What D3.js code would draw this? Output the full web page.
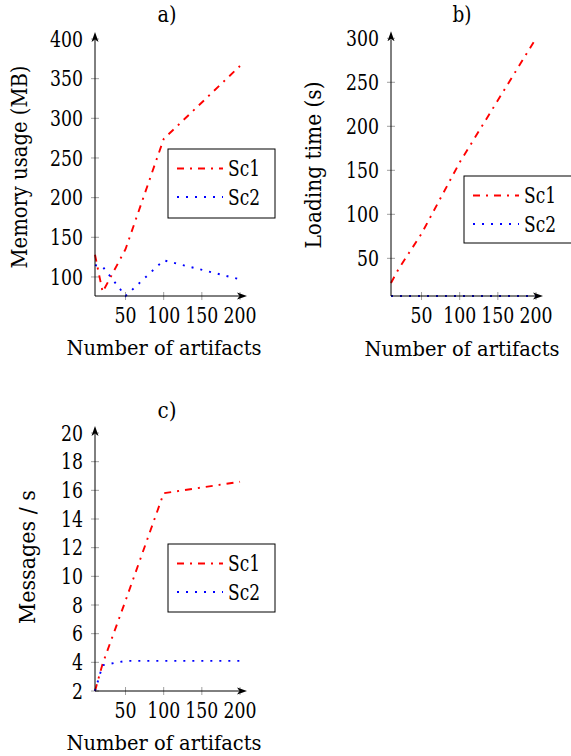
<html>
<head>
  <style>
  body {
    margin: 0;
    background: #fff;
  }
  </style>
</head>
<body>
  <div id="elm"></div>

  <script src="https://d3js.org/d3.v7.min.js"></script>
  <script>
  'use strict';

  // number of artifacts (x values shared by all three plots)
  var artifacts = [10, 20, 50, 100, 200];
  var xTicks = [50, 100, 150, 200];

  // a) memory usage (MB)
  var memSc1 = [128, 81, 135, 274, 366];
  var memSc2 = [115, 113, 76, 121, 97];
  var memTicks = [100, 150, 200, 250, 300, 350, 400];

  // b) loading time (s)
  var loadSc1 = [22, 38, 78, 159, 300];
  var loadSc2 = [7.2, 7.2, 7.2, 7.2, 7.2];
  var loadTicks = [50, 100, 150, 200, 250, 300];

  // c) messages / s
  var msgSc1 = [2, 3.9, 8.3, 15.8, 16.6];
  var msgSc2 = [2, 3.8, 4.1, 4.1, 4.1];
  var msgTicks = [2, 4, 6, 8, 10, 12, 14, 16, 18, 20];

  var seriesNames = ['Sc1', 'Sc2'];

  var W = 571, H = 756;
  var fontSize = 21.5;
  var serif = 'DejaVu Serif';
  var digitW = 11;    // width of one digit, computer-modern like

  var svg = d3.select('#elm').append('svg')
    .attr('width', W)
    .attr('height', H);

  var defs = svg.append('defs');
  defs.append('marker')
    .attr('id', 'arrow')
    .attr('viewBox', '0 0 10 10')
    .attr('refX', 2)
    .attr('refY', 5)
    .attr('markerWidth', 10)
    .attr('markerHeight', 10)
    .attr('markerUnits', 'userSpaceOnUse')
    .attr('orient', 'auto')
    .append('path')
      .attr('d', 'M0,1.5 L10,5 L0,8.5 L2.5,5 Z')
      .attr('fill', '#000');

  var styles = [
    { color: '#ff0000', dash: '7,6,2,6' },
    { color: '#0000ff', dash: '2,7' }
  ];

  var panels = [
    { title: 'a)', tx: 167, ty: 22,
      ylabel: 'Memory usage (MB)', ylen: 203, ylx: 27, yly: 167,
      xlx: 164, xly: 355, tly: 323,
      xr: [95, 240], yr: [296, 39], ydom: [76, 400],
      yticks: memTicks, data: [memSc1, memSc2],
      legend: { x: 168, y: 149, w: 107, h: 69 } },
    { title: 'b)', tx: 462, ty: 22,
      ylabel: 'Loading time (s)', ylen: 167, ylx: 321, yly: 165,
      xlx: 462, xly: 356, tly: 323,
      xr: [391, 536], yr: [296, 38.3], ydom: [7.2, 300],
      yticks: loadTicks, data: [loadSc1, loadSc2],
      legend: { x: 464, y: 176, w: 115, h: 67 } },
    { title: 'c)', tx: 167, ty: 418,
      ylabel: 'Messages / s', ylen: 134, ylx: 35, yly: 557,
      xlx: 164, xly: 750, tly: 718,
      xr: [95, 240], yr: [691, 433], ydom: [2, 20],
      yticks: msgTicks, data: [msgSc1, msgSc2],
      legend: { x: 168, y: 544, w: 107, h: 68 } }
  ];

  function label(sel, len, size) {
    sel.style('font-family', serif).style('font-size', (size || fontSize) + 'px');
    if (len) {
      sel.attr('textLength', len).attr('lengthAdjust', 'spacingAndGlyphs');
    }
    return sel;
  }

  function numLen(d) { return String(d).length * digitW; }

  panels.forEach(function(p) {
    var g = svg.append('g');
    var x = d3.scaleLinear().domain([10, 200]).range(p.xr);
    var y = d3.scaleLinear().domain(p.ydom).range(p.yr);

    // tick marks (gray, crossing the axis line)
    g.selectAll('.xt').data(xTicks).enter().append('line')
      .attr('x1', function(d) { return x(d); })
      .attr('x2', function(d) { return x(d); })
      .attr('y1', p.yr[0] - 4)
      .attr('y2', p.yr[0] + 4)
      .attr('stroke', '#888')
      .attr('stroke-width', 0.8);

    g.selectAll('.yt').data(p.yticks).enter().append('line')
      .attr('x1', p.xr[0] - 4)
      .attr('x2', p.xr[0] + 4)
      .attr('y1', function(d) { return y(d); })
      .attr('y2', function(d) { return y(d); })
      .attr('stroke', '#888')
      .attr('stroke-width', 0.8);

    // tick labels
    g.selectAll('.xl').data(xTicks).enter().append('text')
      .attr('x', function(d) { return x(d); })
      .attr('y', p.tly)
      .attr('text-anchor', 'middle')
      .call(label)
      .attr('textLength', numLen)
      .attr('lengthAdjust', 'spacingAndGlyphs')
      .text(function(d) { return d; });

    g.selectAll('.yl').data(p.yticks).enter().append('text')
      .attr('x', p.xr[0] - 12)
      .attr('y', function(d) { return y(d); })
      .attr('dy', '0.36em')
      .attr('text-anchor', 'end')
      .call(label)
      .attr('textLength', numLen)
      .attr('lengthAdjust', 'spacingAndGlyphs')
      .text(function(d) { return d; });

    // series
    var line = d3.line()
      .x(function(d, i) { return x(artifacts[i]); })
      .y(function(d) { return y(d); });

    p.data.forEach(function(s, k) {
      g.append('path')
        .attr('d', line(s))
        .attr('fill', 'none')
        .attr('stroke', styles[k].color)
        .attr('stroke-width', 1.9)
        .attr('stroke-dasharray', styles[k].dash);
    });

    // axis lines with arrows
    g.append('line')
      .attr('x1', p.xr[0]).attr('y1', p.yr[0])
      .attr('x2', p.xr[1] - 1).attr('y2', p.yr[0])
      .attr('stroke', '#000').attr('stroke-width', 1)
      .attr('marker-end', 'url(#arrow)');
    g.append('line')
      .attr('x1', p.xr[0]).attr('y1', p.yr[0])
      .attr('x2', p.xr[0]).attr('y2', p.yr[1] + 1)
      .attr('stroke', '#000').attr('stroke-width', 1)
      .attr('marker-end', 'url(#arrow)');

    // titles and axis labels
    g.append('text')
      .attr('x', p.tx).attr('y', p.ty)
      .attr('text-anchor', 'middle')
      .call(label, 19)
      .text(p.title);

    g.append('text')
      .attr('x', p.xlx).attr('y', p.xly)
      .attr('text-anchor', 'middle')
      .call(label, 195, 20.5)
      .text('Number of artifacts');

    g.append('text')
      .attr('transform', 'translate(' + p.ylx + ',' + p.yly + ') rotate(-90)')
      .attr('text-anchor', 'middle')
      .call(label, p.ylen)
      .text(p.ylabel);

    // legend
    var lg = g.append('g').attr('transform', 'translate(' + p.legend.x + ',' + p.legend.y + ')');
    lg.append('rect')
      .attr('width', p.legend.w)
      .attr('height', p.legend.h)
      .attr('fill', '#fff')
      .attr('stroke', '#000')
      .attr('stroke-width', 1);

    seriesNames.forEach(function(name, k) {
      var ry = 19.5 + k * 28.5;
      lg.append('line')
        .attr('x1', 9).attr('x2', 55)
        .attr('y1', ry).attr('y2', ry)
        .attr('stroke', styles[k].color)
        .attr('stroke-width', 1.9)
        .attr('stroke-dasharray', styles[k].dash);
      lg.append('text')
        .attr('x', 60).attr('y', ry)
        .attr('dy', '0.36em')
        .call(label, 32)
        .text(name);
    });
  });
  </script>
</body>
</html>
